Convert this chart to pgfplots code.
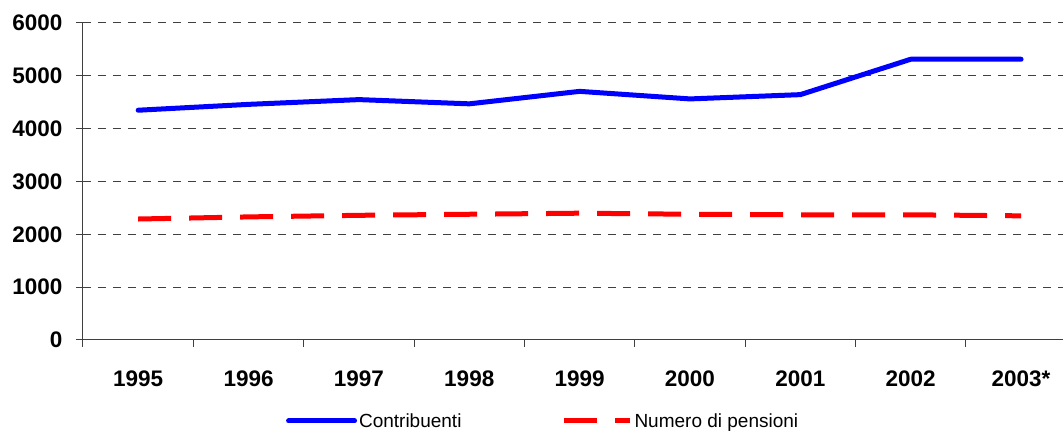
\documentclass[border=0pt]{standalone}
\usepackage{pgfplots}
\pgfplotsset{compat=1.18}
\usepackage{fontspec}
\setmainfont{Liberation Sans}
\definecolor{axisgray}{HTML}{404040}
\begin{document}
\begin{tikzpicture}
\useasboundingbox (-83pt,-95pt) rectangle (980pt,340pt);
\begin{axis}[
  at={(0pt,0pt)}, anchor=south west,
  scale only axis,
  width=980pt, height=317pt,
  xmin=-0.5, xmax=8.38,
  ymin=0, ymax=6000,
  axis x line*=bottom, axis y line*=left,
  axis line style={axisgray, line width=1pt, -},
  xtick={0,...,8},
  xticklabels={1995,1996,1997,1998,1999,2000,2001,2002,2003*},
  major x tick style={draw=none},
  minor xtick={-0.5,0.5,...,7.5},
  minor x tick style={axisgray, line width=1pt},
  minor tick length=7pt,
  ytick={0,1000,...,6000},
  major tick length=7pt,
  y tick style={axisgray, line width=1pt},
  tick align=outside,
  ymajorgrids,
  major grid style={axisgray, line width=1pt, dash pattern=on 8pt off 7pt},
  /pgf/number format/assume math mode=true,
  /pgf/number format/1000 sep={},
  ticklabel style={font=\fontsize{22.5}{27}\selectfont\bfseries},
  yticklabel style={xshift=-10pt},
  xticklabel style={yshift=-20pt},
  legend columns=2,
  legend style={at={(axis description cs:0.207,-0.2555)}, anchor=west, draw=none, inner sep=0pt,
    font=\fontsize{19}{23}\selectfont, nodes={inner sep=2pt},
    /tikz/every even column/.append style={column sep=98pt}},
  legend image code/.code={\draw[#1] (0pt,0pt) -- (66pt,0pt);},
]
\addplot[color={rgb,255:red,0;green,0;blue,255}, line width=5pt, line cap=round, line join=round] coordinates {
(0,4349) (1,4460) (2,4550) (3,4470) (4,4706) (5,4563) (6,4644) (7,5314) (8,5314)};
\addlegendentry{Contribuenti}
\addplot[color={rgb,255:red,255;green,0;blue,0}, line width=5pt, dash pattern=on 33pt off 18pt] coordinates {
(0,2290) (1,2330) (2,2360) (3,2380) (4,2400) (5,2380) (6,2370) (7,2370) (8,2350)};
\addlegendentry{Numero di pensioni}
\end{axis}
\end{tikzpicture}
\end{document}
